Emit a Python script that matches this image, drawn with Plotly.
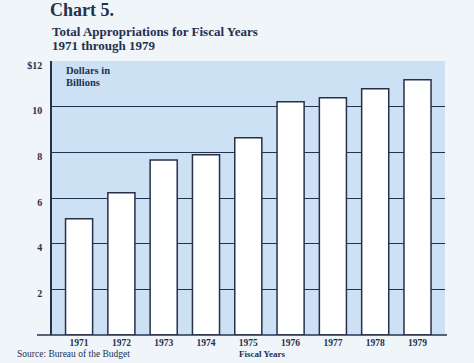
import plotly.graph_objects as go

years = ["1971", "1972", "1973", "1974", "1975", "1976", "1977", "1978", "1979"]
appropriations = [5.09, 6.23, 7.66, 7.89, 8.64, 10.22, 10.39, 10.79, 11.18]
y_tick_vals = [2, 4, 6, 8, 10, 12]
y_tick_text = ["2", "4", "6", "8", "10", "$12"]

INK = "#26304d"
SERIF = "Liberation Serif, Times New Roman, serif"

fig = go.Figure()
fig.add_trace(go.Bar(
    x=years, y=appropriations,
    width=0.64,
    marker=dict(color="#ffffff", line=dict(color=INK, width=1.5)),
    hoverinfo="x+y",
))

W, H = 474, 363
L, R, T, B = 52, 445, 61, 335

def px(x):
    return (x - L) / (R - L)

def py(y):
    return (B - y) / (B - T)

fig.update_layout(
    width=W, height=H,
    margin=dict(l=L, r=W - R, t=T, b=H - B),
    paper_bgcolor="#eff5f9",
    plot_bgcolor="#cde1f4",
    showlegend=False,
    font=dict(family=SERIF, color=INK),
    bargap=0.36,
    title=dict(
        text="<b>Chart 5.</b>",
        x=50 / W, xanchor="left", xref="container",
        y=1 - 3 / H, yanchor="top", yref="container",
        font=dict(family=SERIF, size=18, color=INK),
    ),
    xaxis=dict(
        range=[-0.64, 8.65],
        showgrid=False, showline=False, zeroline=False,
        ticks="", tickfont=dict(family=SERIF, size=9.5, color=INK, weight="bold"),
        fixedrange=True,
    ),
    yaxis=dict(
        range=[0, 12],
        tickvals=y_tick_vals, ticktext=y_tick_text,
        showgrid=True, gridcolor=INK, gridwidth=1.3,
        zeroline=False,
        showline=True, linecolor=INK, linewidth=1.5,
        ticks="", ticklabelstandoff=6, ticklabelshift=4,
        tickfont=dict(family=SERIF, size=10, color=INK, weight="bold"),
        fixedrange=True,
    ),
    annotations=[
        dict(text="<b>Total Appropriations for Fiscal Years</b>", xref="paper", yref="paper",
             x=px(50), y=py(22), xanchor="left", yanchor="top", showarrow=False,
             font=dict(family=SERIF, size=13, color=INK)),
        dict(text="<b>1971 through 1979</b>", xref="paper", yref="paper",
             x=px(50), y=py(36), xanchor="left", yanchor="top", showarrow=False,
             font=dict(family=SERIF, size=13, color=INK)),
        dict(text="<b>Dollars in</b>", xref="paper", yref="paper",
             x=px(64), y=py(63), xanchor="left", yanchor="top", showarrow=False,
             font=dict(family=SERIF, size=10.5, color=INK)),
        dict(text="<b>Billions</b>", xref="paper", yref="paper",
             x=px(64), y=py(75), xanchor="left", yanchor="top", showarrow=False,
             font=dict(family=SERIF, size=10.5, color=INK)),
        dict(text="<b>Fiscal Years</b>", xref="paper", yref="paper",
             x=px(262), y=py(354), xanchor="center", yanchor="middle", showarrow=False,
             font=dict(family=SERIF, size=9, color=INK)),
        dict(text="Source: Bureau of the Budget", xref="paper", yref="paper",
             x=px(15), y=py(354), xanchor="left", yanchor="middle", showarrow=False,
             font=dict(family=SERIF, size=9.5, color=INK)),
    ],
    shapes=[
        dict(type="line", xref="paper", yref="paper", x0=px(37), x1=px(447), y0=0, y1=0,
             line=dict(color=INK, width=1.5)),
    ],
)

fig.write_html("out.html", config={"displayModeBar": False},
               post_script="document.body.style.margin='0';document.body.style.overflow='hidden';")
